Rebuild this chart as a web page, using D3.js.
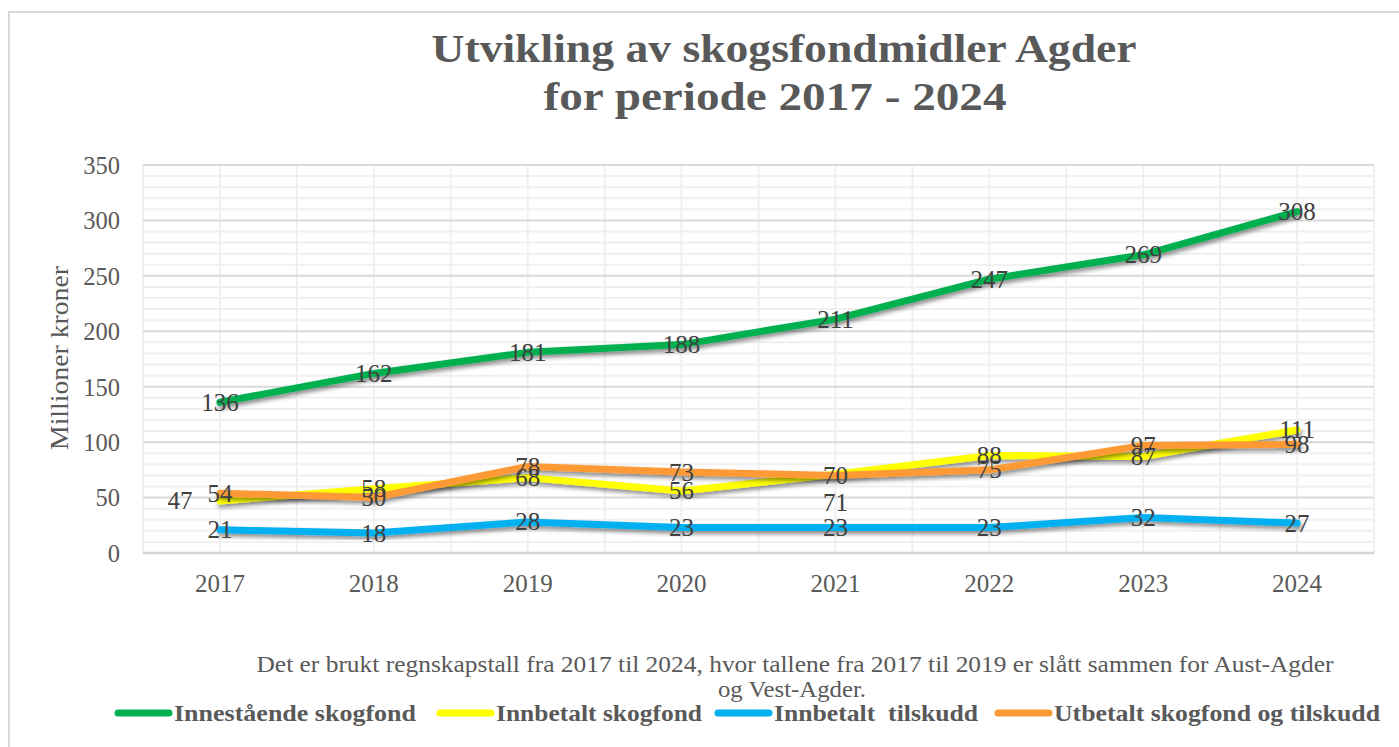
<!DOCTYPE html>
<html>
<head>
<meta charset="utf-8">
<script src="https://cdn.jsdelivr.net/npm/d3@7"></script>
<style>
  html, body { margin: 0; padding: 0; background: #fff; }
  svg { display: block; }
</style>
</head>
<body>
<svg id="chart" width="1399" height="747"></svg>
<script>
// ---------- DATA ----------
const years = ["2017", "2018", "2019", "2020", "2021", "2022", "2023", "2024"];
const innestaende = [136, 162, 181, 188, 211, 247, 269, 308];
const innbetaltSkogfond = [47, 58, 68, 56, 71, 88, 87, 111];
const innbetaltTilskudd = [21, 18, 28, 23, 23, 23, 32, 27];
const utbetalt = [54, 50, 78, 73, 70, 75, 97, 98];
const yTicks = [0, 50, 100, 150, 200, 250, 300, 350];
const seriesNames = ["Innestående skogfond", "Innbetalt skogfond", "Innbetalt  tilskudd", "Utbetalt skogfond og tilskudd"];
const titleLines = ["Utvikling av skogsfondmidler Agder", "for periode 2017 - 2024"];
const noteLines = ["Det er brukt regnskapstall fra 2017 til 2024, hvor tallene fra 2017 til 2019 er slått sammen for Aust-Agder", "og Vest-Agder."];
const yTitle = "Millioner kroner";

// ---------- STYLE / LAYOUT ----------
const colors = ["#00b050", "#ffff00", "#00b0f0", "#fd9a35"];
const series = [innestaende, innbetaltSkogfond, innbetaltTilskudd, utbetalt];
const serif = "'Liberation Serif', 'DejaVu Serif', serif";
const textCol = "#595959";

const svg = d3.select("#chart");
const plot = { left: 143, right: 1374, top: 165, bottom: 553 };

// outer border
svg.append("path")
  .attr("d", `M9,760 L9,12 L1410,12`)
  .attr("fill", "none").attr("stroke", "#d9d9d9").attr("stroke-width", 2);

const defs = svg.append("defs");
const f = defs.append("filter").attr("id", "shadow").attr("x", "-5%").attr("y", "-20%").attr("width", "110%").attr("height", "160%");
f.append("feDropShadow").attr("dx", 1.5).attr("dy", 3).attr("stdDeviation", 2.2)
  .attr("flood-color", "#000").attr("flood-opacity", 0.45);

const x = d3.scaleBand().domain(years).range([plot.left, plot.right]).padding(0);
const bw = x.bandwidth();
const cx = d => x(d) + bw / 2;
const y = d3.scaleLinear().domain([0, 350]).range([plot.bottom, plot.top]);

// minor horizontal gridlines
const g = svg.append("g");
g.selectAll(".minor").data(d3.range(0, 351, 10).filter(v => v % 50 !== 0)).enter()
  .append("line")
  .attr("x1", plot.left).attr("x2", plot.right)
  .attr("y1", d => y(d)).attr("y2", d => y(d))
  .attr("stroke", "#f0f0f0").attr("stroke-width", 2);
// vertical gridlines (category boundaries and centres)
const vx = [];
years.forEach(d => { vx.push(x(d)); vx.push(cx(d)); });
vx.push(plot.right);
g.selectAll(".vgrid").data(vx).enter().append("line")
  .attr("x1", d => d).attr("x2", d => d)
  .attr("y1", plot.top).attr("y2", plot.bottom)
  .attr("stroke", "#f0f0f0").attr("stroke-width", 2);
// major horizontal gridlines
g.selectAll(".major").data(yTicks).enter().append("line")
  .attr("x1", plot.left).attr("x2", plot.right)
  .attr("y1", d => y(d)).attr("y2", d => y(d))
  .attr("stroke", d => d === 0 ? "#d4d4d4" : "#d9d9d9").attr("stroke-width", d => d === 0 ? 2.5 : 2);

// y axis
const yAxis = d3.axisLeft(y).tickValues(yTicks).tickSize(0).tickPadding(0);
const ya = svg.append("g").attr("transform", `translate(120,0)`).call(yAxis);
ya.select(".domain").remove();
ya.selectAll("text").attr("font-family", serif).attr("font-size", 24.5).attr("fill", textCol).attr("dy", "0.34em");

// x axis
const xAxis = d3.axisBottom(x).tickSize(0).tickPadding(0);
const xa = svg.append("g").attr("transform", `translate(0,574)`).call(xAxis);
xa.select(".domain").remove();
xa.selectAll("text").attr("font-family", serif).attr("font-size", 25).attr("fill", textCol).attr("dy", "0.71em");

// y title
svg.append("text")
  .attr("transform", `translate(68,358) rotate(-90)`)
  .attr("text-anchor", "middle")
  .attr("font-family", serif).attr("font-size", 25).attr("fill", textCol)
  .attr("textLength", 184).attr("lengthAdjust", "spacingAndGlyphs")
  .text(yTitle);

// title
svg.append("g").selectAll("text").data(titleLines).enter().append("text")
  .attr("x", (d, i) => i === 0 ? 784 : 775)
  .attr("y", (d, i) => 62 + i * 48)
  .attr("text-anchor", "middle")
  .attr("font-family", serif).attr("font-weight", "bold").attr("font-size", 41)
  .attr("fill", textCol)
  .attr("textLength", (d, i) => i === 0 ? 705 : 463)
  .attr("lengthAdjust", "spacingAndGlyphs")
  .text(d => d);

// lines
const line = d3.line().x((d, i) => cx(years[i])).y(d => y(d));
const drawOrder = [0, 2, 1, 3];
drawOrder.forEach(si => {
  svg.append("path")
    .datum(series[si])
    .attr("d", line)
    .attr("fill", "none")
    .attr("stroke", colors[si])
    .attr("stroke-width", 7)
    .attr("stroke-linejoin", "round")
    .attr("stroke-linecap", "round")
    .attr("filter", "url(#shadow)");
});

// data labels (nudges for labels moved in the original)
const nudge = { "1-0": [-40, 0], "1-4": [0, 28] };
series.forEach((s, si) => {
  svg.append("g").selectAll("text").data(s).enter().append("text")
    .attr("x", (d, i) => cx(years[i]) + (nudge[si + "-" + i] ? nudge[si + "-" + i][0] : 0))
    .attr("y", (d, i) => y(d) + (nudge[si + "-" + i] ? nudge[si + "-" + i][1] : 0))
    .attr("dy", "0.34em")
    .attr("text-anchor", "middle")
    .attr("font-family", serif).attr("font-size", 25).attr("fill", "#404040")
    .text(d => d);
});

// note
svg.append("g").selectAll("text").data(noteLines).enter().append("text")
  .attr("x", (d, i) => i === 0 ? 795 : 792)
  .attr("y", (d, i) => 672 + i * 25)
  .attr("text-anchor", "middle")
  .attr("font-family", serif).attr("font-size", 23).attr("fill", textCol)
  .attr("textLength", (d, i) => i === 0 ? 1077 : 148)
  .attr("lengthAdjust", "spacingAndGlyphs")
  .text(d => d);

// legend
const legX = [115, 437, 715, 995];
const legTextLen = [242, 206, 204, 326];
const lg = svg.append("g");
seriesNames.forEach((n, i) => {
  lg.append("line")
    .attr("x1", legX[i] + 3).attr("x2", legX[i] + 54)
    .attr("y1", 713).attr("y2", 713)
    .attr("stroke", colors[i]).attr("stroke-width", 7).attr("stroke-linecap", "round");
  lg.append("text")
    .attr("x", legX[i] + 59).attr("y", 721)
    .attr("font-family", serif).attr("font-weight", "bold").attr("font-size", 23)
    .attr("fill", textCol)
    .attr("xml:space", "preserve").style("white-space", "pre")
    .attr("textLength", legTextLen[i]).attr("lengthAdjust", "spacingAndGlyphs")
    .text(n);
});
</script>
</body>
</html>
